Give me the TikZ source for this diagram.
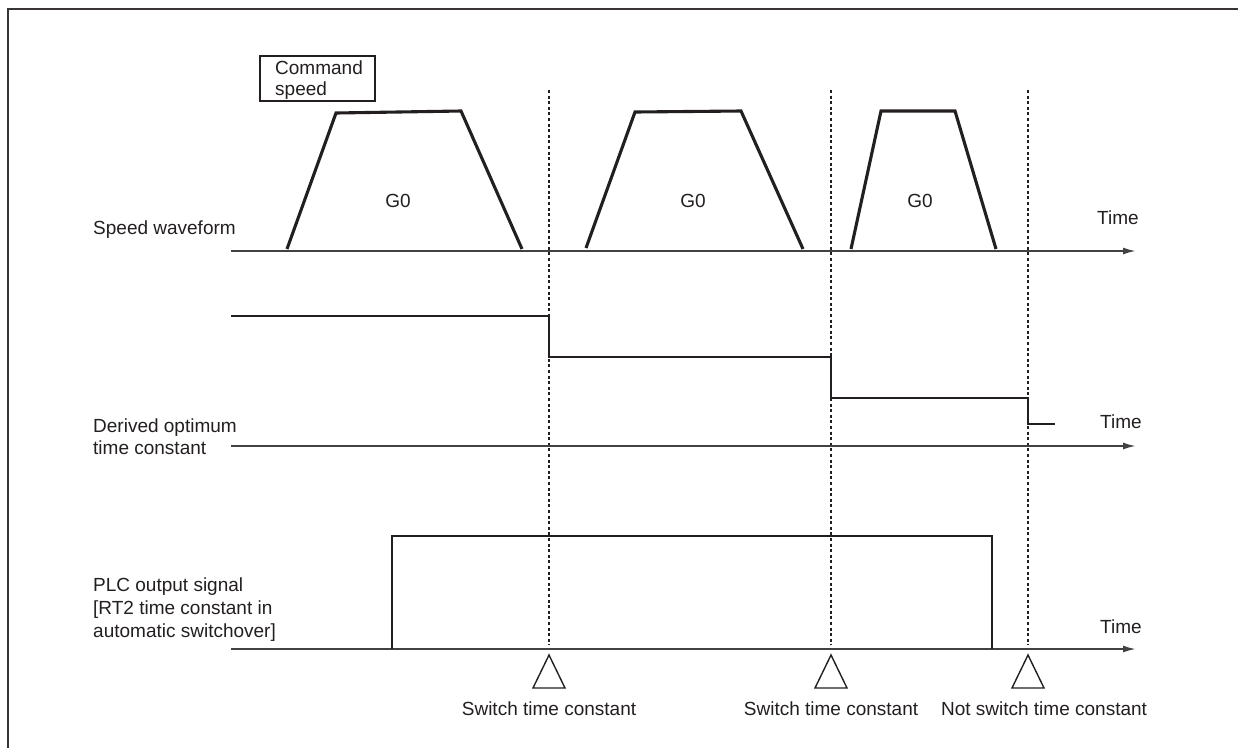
\documentclass[tikz,border=0pt]{standalone}
\usepackage{fontspec}
\setmainfont{Liberation Sans}
\usetikzlibrary{arrows.meta}
\definecolor{ink}{HTML}{231F20}
\begin{document}
\begin{tikzpicture}[x=1pt,y=-1pt,
  lbl/.style={inner sep=0pt,font=\fontsize{19}{23}\selectfont,text=ink},
  axis/.style={draw=ink!85,line width=1.9pt,-{Latex[length=13pt,width=7pt]}},
  wave/.style={draw=ink,line width=3.1pt,line join=miter},
  guide/.style={draw=ink,line width=1.4pt,dash pattern=on 3pt off 2.6pt},
  trimark/.style={draw=ink,line width=1.4pt,fill=white},
  frame/.style={draw=ink!90,line width=2.2pt}]
\useasboundingbox (0,0) rectangle (1238,748);
\fill[white] (0,0) rectangle (1238,748);
% outer frame (cropped at right and bottom)
\draw[frame] (8,748) -- (8,9) -- (1238,9);

% command speed box
\draw[draw=ink,line width=1.5pt] (260,56) rectangle (375,101);
\node[lbl,anchor=base west] (cmd1) at (275,74) {Command};
\node[lbl,anchor=base west] (cmd2) at (275,95) {speed};

% guide lines
\coordinate (g1t) at (549,90);  \coordinate (g1b) at (549,645);
\coordinate (g2t) at (831,90);  \coordinate (g2b) at (831,645);
\coordinate (g3t) at (1028,90); \coordinate (g3b) at (1028,645);
\draw[guide] (g1t) -- (g1b);
\draw[guide] (g2t) -- (g2b);
\draw[guide] (g3t) -- (g3b);

% axes
\coordinate (a1s) at (231,251); \coordinate (a1e) at (1136,251);
\coordinate (a2s) at (231,446); \coordinate (a2e) at (1136,446);
\coordinate (a3s) at (231,649); \coordinate (a3e) at (1136,649);
\draw[axis] (a1s) -- (a1e);
\draw[axis] (a2s) -- (a2e);
\draw[axis] (a3s) -- (a3e);

% row labels
\node[lbl,anchor=base west] (sw) at (93,234) {Speed waveform};
\node[lbl,anchor=base west] (do1) at (93,432) {Derived optimum};
\node[lbl,anchor=base west] (do2) at (93,454) {time constant};
\node[lbl,anchor=base west] (plc1) at (93,591) {PLC output signal};
\node[lbl,anchor=base west] (plc2) at (93,614) {[RT2 time constant in};
\node[lbl,anchor=base west] (plc3) at (93,637) {automatic switchover]};

\node[lbl,anchor=base west] (t1) at (1097,224) {Time};
\node[lbl,anchor=base west] (t2) at (1100,428) {Time};
\node[lbl,anchor=base west] (t3) at (1100,633) {Time};

% speed waveforms
\draw[wave] (287,249) -- (336,113) -- (461,111) -- (522,249);
\draw[wave] (586,248) -- (635,112) -- (741,111) -- (803,249);
\draw[wave] (851,249) -- (881,111) -- (955,111) -- (996,249);
\node[lbl,anchor=base] (g01) at (398,207) {G0};
\node[lbl,anchor=base] (g02) at (693,207) {G0};
\node[lbl,anchor=base] (g03) at (920,207) {G0};

% derived time constant
\draw[wave,line width=2.8pt] (231,316) -- (549,316) -- (549,357) -- (831,357) -- (831,398) -- (1028,398) -- (1028,424) -- (1055,424);

% PLC output signal
\draw[wave,line width=2.8pt] (392,649) -- (392,536) -- (992,536) -- (992,649);

% triangles
\foreach \x in {549,831,1028}{
  \draw[trimark] (\x,655) -- (\x-16,688) -- (\x+16,688) -- cycle;
}
\node[lbl,anchor=base] (s1) at (549,715) {Switch time constant};
\node[lbl,anchor=base] (s2) at (831,715) {Switch time constant};
\node[lbl,anchor=base] (s3) at (1044,715) {Not switch time constant};
\end{tikzpicture}
\end{document}
